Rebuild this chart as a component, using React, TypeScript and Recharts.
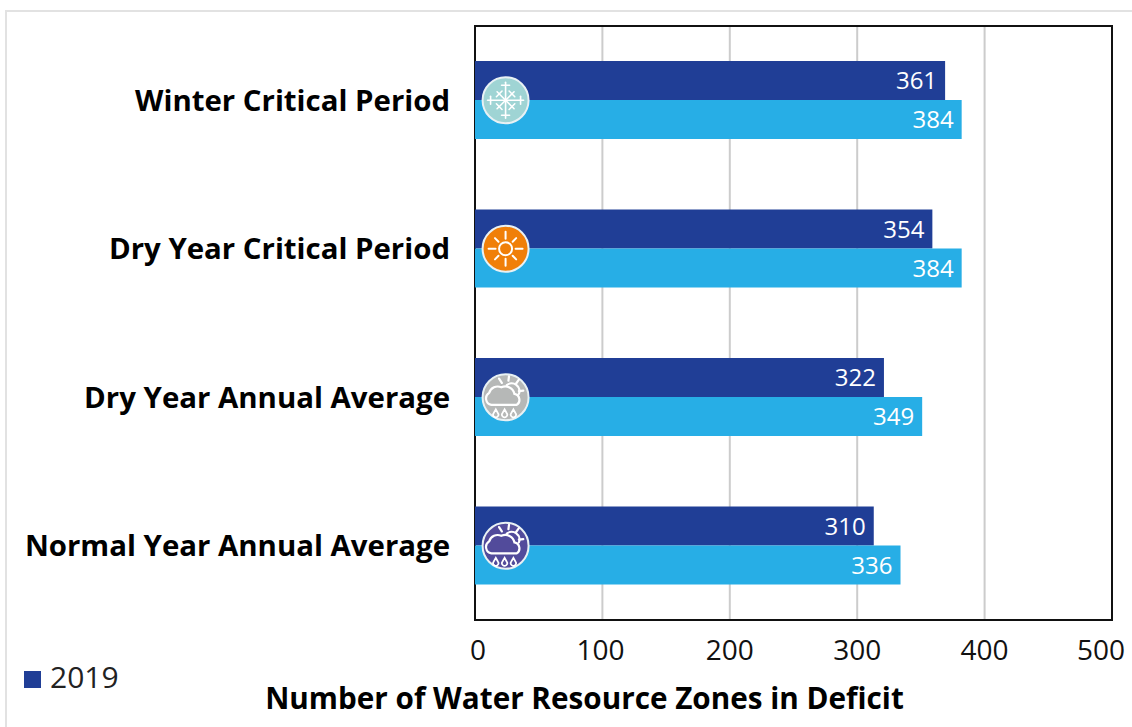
import React from "react";
import { BarChart, Bar, XAxis, YAxis, CartesianGrid, LabelList, Legend, ReferenceArea, ReferenceDot } from "recharts";

const categories = ["Winter Critical Period", "Dry Year Critical Period", "Dry Year Annual Average", "Normal Year Annual Average"];
const barLengths2019 = [369, 359, 321, 313];
const barLengthsOther = [382, 382, 351, 334];
const labels2019 = ["361", "354", "322", "310"];
const labelsOther = ["384", "384", "349", "336"];
const xTicks = [0, 100, 200, 300, 400, 500];
const iconValue = 24;

const data = categories.map((c, i) => ({
  category: c,
  y2019: barLengths2019[i],
  other: barLengthsOther[i],
  l2019: labels2019[i],
  lOther: labelsOther[i],
}));

const FONT = "'Open Sans', sans-serif";
const W = "#ffffff";

const Cloud = ({ fill }: { fill: string }) => (
  <g fill="none" stroke={W} strokeWidth={2} strokeLinecap="round" transform="translate(-1,0) scale(1.1)">
    <path d="M2 -11 A7 7 0 0 1 13 -3" />
    <path d="M-5 -17 L-2.5 -13 M4 -19 L3.5 -15 M13 -16 L10.5 -12.5 M17 -6 L13 -5.5" />
    <path
      d="M-12 7 A6 6 0 0 1 -14 -4 A8 8 0 0 1 -3 -9 A8.5 8.5 0 0 1 9 -3 A5.5 5.5 0 0 1 11 7 Z"
      fill={fill}
    />
    <path d="M-8 11 L-10 14.5 A2.4 2.4 0 1 0 -6 14.5 Z M0 11 L-2 14.5 A2.4 2.4 0 1 0 2 14.5 Z M8 11 L6 14.5 A2.4 2.4 0 1 0 10 14.5 Z" strokeWidth={1.6} />
  </g>
);

const Sun = () => (
  <g stroke={W} strokeWidth={2} fill="none" strokeLinecap="round">
    <circle r={6.5} />
    {[0, 45, 90, 135, 180, 225, 270, 315].map((a) => (
      <line key={a} x1={10} x2={a % 90 === 0 ? 17 : 15} y1={0} y2={0} transform={`rotate(${a})`} />
    ))}
  </g>
);

const Snow = () => (
  <g stroke={W} strokeWidth={1.6} fill="none" strokeLinecap="round">
    {[0, 45, 90, 135, 180, 225, 270, 315].map((a) => (
      <g key={a} transform={`rotate(${a})`}>
        <line x1={0} y1={0} x2={a % 90 === 0 ? 18 : 12} y2={0} />
        <line x1={a % 90 === 0 ? 15 : 9} y1={-4} x2={a % 90 === 0 ? 15 : 9} y2={4} />
      </g>
    ))}
  </g>
);

const iconFills = ["#9fd4d4", "#f07f09", "#b6b8b7", "#524b9b"];

const makeIcon = (i: number) => (props: any) => (
  <g transform={`translate(${props.cx},${props.cy})`}>
    <circle r={23} fill={iconFills[i]} stroke="#e8f1f4" strokeWidth={2} />
    {i === 0 && <Snow />}
    {i === 1 && <Sun />}
    {i >= 2 && <Cloud fill={iconFills[i]} />}
  </g>
);

const XTick = (props: any) => {
  const { x, y, payload } = props;
  const nudge = payload.value === 500 ? -11 : payload.value === 0 ? 3 : payload.value === 100 ? -2 : 0;
  return (
    <text x={x + nudge} y={y} dy={24} textAnchor="middle" fill="#111" fontSize={28} fontFamily={FONT}>
      {payload.value}
    </text>
  );
};

export default function App() {
  return (
    <div style={{ position: "absolute", left: 0, top: 0, width: 1132, height: 727, background: "#fff", overflow: "hidden" }}>
      <div style={{ position: "absolute", left: 5, top: 10, width: 1140, height: 730, borderLeft: "2px solid #e2e2e2", borderTop: "2px solid #e2e2e2" }} />
      <div style={{ position: "absolute", left: 0, top: 0 }}>
        <BarChart
          width={1132}
          height={727}
          data={data}
          layout="vertical"
          barGap={0}
          barCategoryGap={35}
          margin={{ top: 26, right: 20, bottom: 0, left: 0 }}
          style={{ fontFamily: FONT }}
        >
          <CartesianGrid horizontal={false} vertical stroke="#cccccc" strokeWidth={2} />
          <XAxis
            type="number"
            domain={[0, 500]}
            ticks={xTicks}
            axisLine={false}
            tickLine={false}
            tickMargin={10}
            height={67}
            tick={<XTick />}
            label={{
              value: "Number of Water Resource Zones in Deficit",
              position: "insideBottom",
              dx: -209,
              dy: 27,
              style: { fill: "#000", fontSize: 29.7, fontWeight: 700, fontFamily: FONT },
            }}
          />
          <YAxis
            type="category"
            dataKey="category"
            width={475}
            axisLine={false}
            tickLine={false}
            tickSize={0}
            tickMargin={25}
            interval={0}
            tick={{ fill: "#000", fontSize: 29.4, fontWeight: 700, fontFamily: FONT }}
          />
          <Bar dataKey="y2019" name="2019" fill="#203e96" isAnimationActive={false}>
            <LabelList dataKey="l2019" position="insideRight" offset={8} fill="#fff" fontSize={24} fontFamily={FONT} />
          </Bar>
          <Bar dataKey="other" name="Other" legendType="none" fill="#27aee6" isAnimationActive={false}>
            <LabelList dataKey="lOther" position="insideRight" offset={8} fill="#fff" fontSize={24} fontFamily={FONT} />
          </Bar>
          <ReferenceArea x1={0} x2={500} fill="none" fillOpacity={0} stroke="#111" strokeWidth={2} ifOverflow="visible" />
          {categories.map((c, i) => (
            <ReferenceDot key={c} x={iconValue} y={c} r={23} ifOverflow="visible" shape={makeIcon(i)} />
          ))}
          <Legend
            layout="horizontal"
            verticalAlign="bottom"
            align="left"
            iconType="square"
            iconSize={17}
            wrapperStyle={{ position: "absolute", left: 24, top: 656, width: 120, height: 40, bottom: "auto", fontSize: 30, fontFamily: FONT }}
            formatter={(v: string) => <span style={{ color: "#222", fontSize: 30, fontFamily: FONT, marginLeft: 5 }}>{v}</span>}
          />
        </BarChart>
      </div>
    </div>
  );
}
